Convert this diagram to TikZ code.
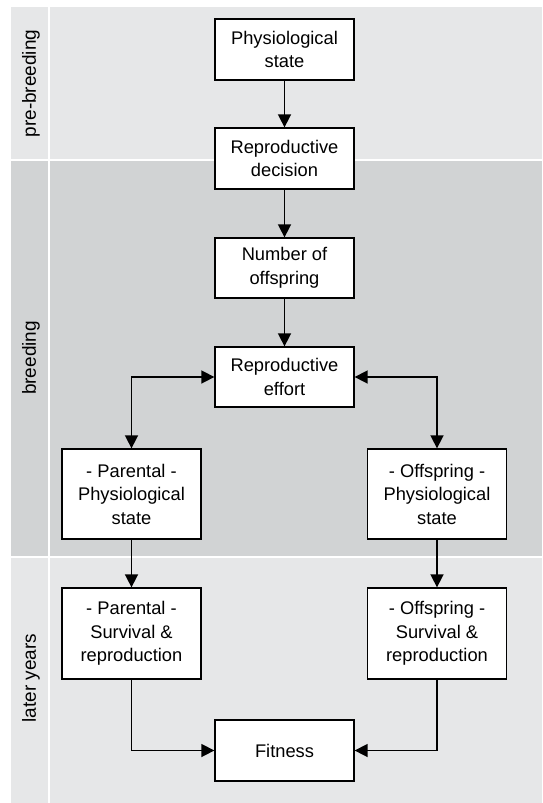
\documentclass[tikz,border=0pt]{standalone}
\usepackage{fontspec}
\setmainfont{Liberation Sans}
\usetikzlibrary{arrows.meta}
\definecolor{bandlight}{HTML}{E6E7E8}
\definecolor{banddark}{HTML}{D1D3D4}
\begin{document}
\begin{tikzpicture}[x=1pt,y=-1pt,
  box/.style={draw=black,line width=1.3pt,fill=white,minimum width=139pt,inner sep=0pt,align=center,font=\fontsize{18.3}{23.5}\selectfont},
  conn/.style={line width=1.6pt,-{Triangle[length=13pt,width=13pt]}},
  conn2/.style={line width=1.6pt,{Triangle[length=13pt,width=13pt]}-{Triangle[length=13pt,width=13pt]}},
  bandlabel/.style={rotate=90,font=\fontsize{19}{22}\selectfont,inner sep=0pt}]
\useasboundingbox (0,0) rectangle (542,803);
% bands
\fill[bandlight] (11,7) rectangle (542,160);
\fill[banddark] (11,160) rectangle (542,557);
\fill[bandlight] (11,557) rectangle (542,803);
\draw[white,line width=1.5pt] (11,160) -- (542,160);
\draw[white,line width=1.5pt] (11,557) -- (542,557);
\draw[white,line width=1.5pt] (49,7) -- (49,803);
% band labels
\node[bandlabel] (lpre) at (31,83.5) {pre-breeding};
\node[bandlabel] (lbre) at (31,358) {breeding};
\node[bandlabel] (llat) at (31,678) {later years};
% boxes
\node[box,minimum height=61pt] (phys) at (284.5,49.5) {Physiological\\state};
\node[box,minimum height=61pt] (dec) at (284.5,158.5) {Reproductive\\decision};
\node[box,minimum height=60pt] (num) at (284.5,268) {Number of\\offspring};
\node[box,minimum height=60pt] (eff) at (284.5,377) {Reproductive\\effort};
\node[box,minimum height=90pt] (pphys) at (131.5,494) {- Parental -\\Physiological\\state};
\node[box,minimum height=90pt] (ophys) at (437,494) {- Offspring -\\Physiological\\state};
\node[box,minimum height=91pt] (psurv) at (131.5,633.5) {- Parental -\\Survival \&\\reproduction};
\node[box,minimum height=91pt] (osurv) at (437,633.5) {- Offspring -\\Survival \&\\reproduction};
\node[box,minimum height=61pt] (fit) at (284.5,750.5) {Fitness};
% connectors
\draw[conn] (phys) -- (dec);
\draw[conn] (dec) -- (num);
\draw[conn] (num) -- (eff);
\draw[conn2] (pphys.north) |- (eff.west);
\draw[conn2] (ophys.north) |- (eff.east);
\draw[conn] (pphys) -- (psurv);
\draw[conn] (ophys) -- (osurv);
\draw[conn] (psurv.south) |- (fit.west);
\draw[conn] (osurv.south) |- (fit.east);
\end{tikzpicture}
\end{document}
